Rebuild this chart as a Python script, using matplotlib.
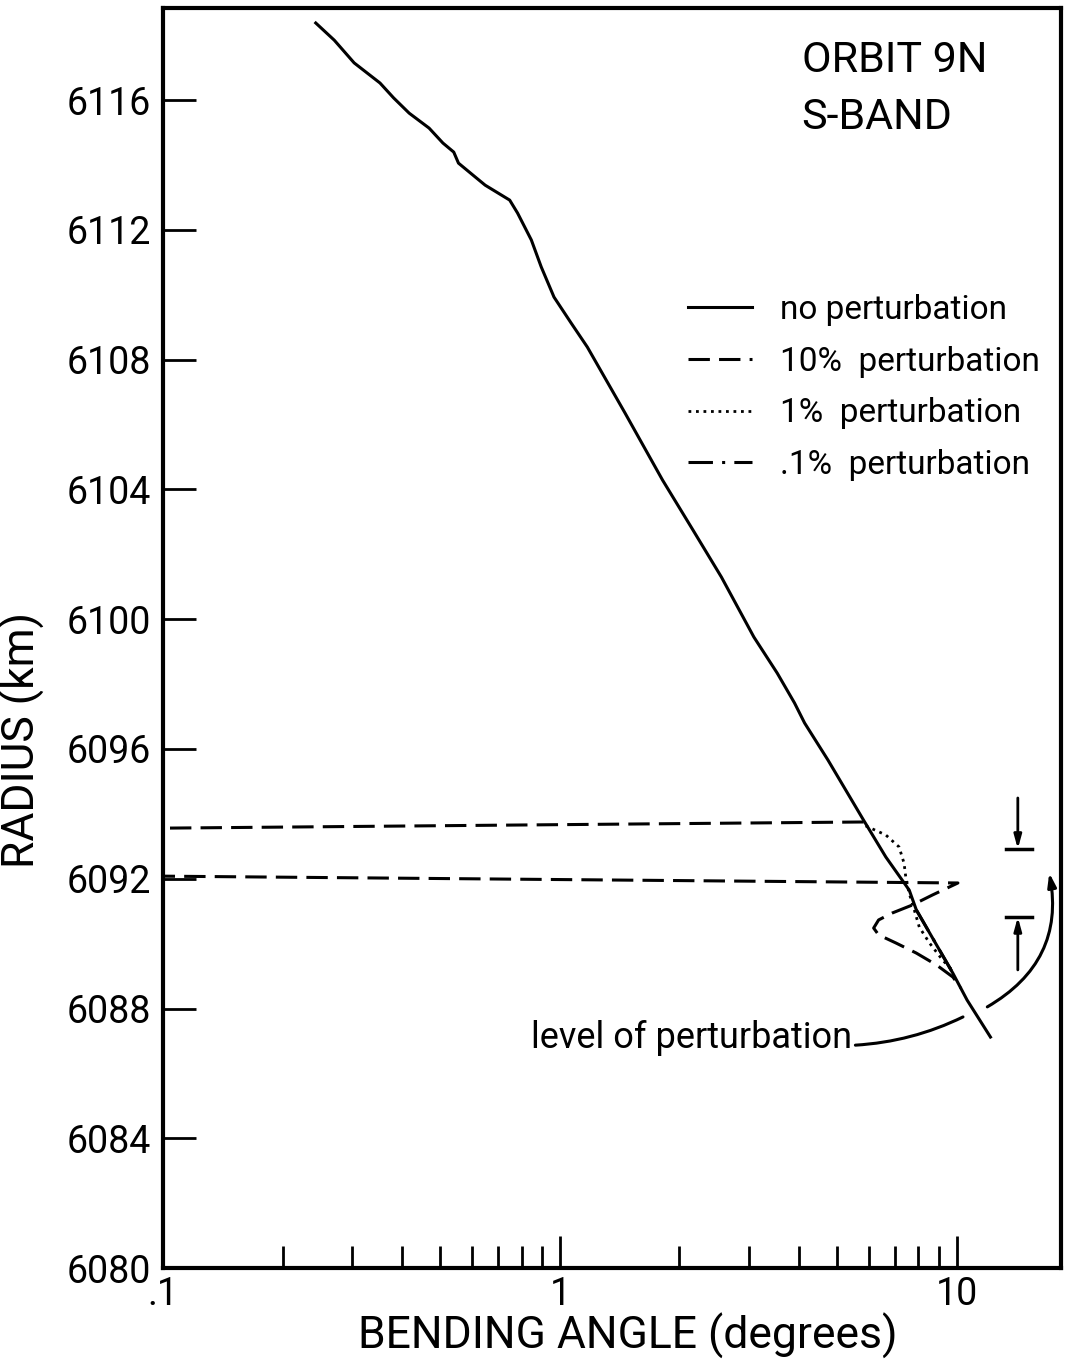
import matplotlib.pyplot as plt
from matplotlib.ticker import LogLocator, NullFormatter, FixedLocator, FixedFormatter

plt.rcParams['font.family'] = ['Roboto', 'DejaVu Sans']

# unperturbed profile: bending angle (deg) against radius (km)
angle_0 = [0.2425, 0.270, 0.303, 0.352, 0.381, 0.417, 0.468, 0.507, 0.540, 0.555,
           0.612, 0.648, 0.747, 0.782, 0.847, 0.897, 0.966, 1.067, 1.172, 1.458,
           1.813, 2.163, 2.551, 3.080, 3.526, 3.898, 4.134, 4.733, 5.817, 6.622,
           7.584, 7.903, 9.768, 10.61, 12.15]
radius_0 = [6118.38, 6117.85, 6117.15, 6116.53, 6116.07, 6115.60, 6115.14, 6114.68,
            6114.40, 6114.06, 6113.63, 6113.38, 6112.92, 6112.52, 6111.69, 6110.86,
            6109.93, 6109.13, 6108.39, 6106.36, 6104.29, 6102.75, 6101.30, 6099.45,
            6098.34, 6097.42, 6096.80, 6095.66, 6093.81, 6092.67, 6091.65, 6091.04,
            6089.09, 6088.26, 6087.12]

# 10% perturbation (runs off to small angles and comes back)
angle_10 = [5.82, 0.1, 0.05, 0.05, 0.1, 10.06, 8.68, 7.72, 6.86, 6.35, 6.17, 6.35,
            7.02, 7.90, 8.89, 9.77, 10.24]
radius_10 = [6093.75, 6093.56, 6093.55, 6092.08, 6092.08, 6091.87, 6091.50, 6091.19,
             6090.94, 6090.73, 6090.48, 6090.27, 6090.02, 6089.71, 6089.34, 6088.97,
             6088.63]

# 1% perturbation
angle_1 = [5.89, 6.62, 7.15, 7.36, 7.45, 7.58, 7.81, 8.04, 8.53, 9.21, 9.72]
radius_1 = [6093.63, 6093.35, 6092.98, 6092.48, 6091.96, 6091.56, 6091.04, 6090.51,
            6090.02, 6089.49, 6089.19]

# .1% perturbation lies on the unperturbed curve
angle_01 = [7.903, 9.768]
radius_01 = [6091.04, 6089.09]

yticks = list(range(6080, 6117, 4))
xticks = [0.1, 1, 10]
xticklabels = ['.1', '1', '10']

fig = plt.figure(figsize=(10.65, 13.67), dpi=100)
ax = fig.add_axes([0.1531, 0.0724, 0.8432, 0.9217])

ax.plot(angle_0, radius_0, color='black', lw=2.2, label='no perturbation')
ax.plot(angle_10, radius_10, color='black', lw=2.2, dashes=(7, 3),
        label='10%  perturbation')
ax.plot(angle_1, radius_1, color='black', lw=2.0, dashes=(1, 1.7),
        label='1%  perturbation')
ax.plot(angle_01, radius_01, color='black', lw=2.2, dashes=(8, 3, 1, 3),
        label='.1%  perturbation')

ax.set_xscale('log')
ax.set_xlim(0.1, 18.3)
ax.set_ylim(6080, 6118.84)

ax.xaxis.set_major_locator(FixedLocator(xticks))
ax.xaxis.set_major_formatter(FixedFormatter(xticklabels))
ax.xaxis.set_minor_locator(LogLocator(base=10, subs=range(2, 10)))
ax.xaxis.set_minor_formatter(NullFormatter())
ax.set_yticks(yticks)

ax.tick_params(axis='x', which='major', direction='in', length=23, width=2,
               labelsize=27, pad=6)
ax.tick_params(axis='x', which='minor', direction='in', length=16, width=2)
ax.tick_params(axis='y', direction='in', length=24, width=2, labelsize=27, pad=9)

for s in ax.spines.values():
    s.set_linewidth(3)

ax.set_xlabel('BENDING ANGLE (degrees)', fontsize=32)
ax.xaxis.set_label_coords(0.518, -0.036)
ax.set_ylabel('RADIUS (km)', fontsize=32)
ax.yaxis.set_label_coords(-0.131, 0.419)

ax.text(0.711, 0.958, 'ORBIT 9N', transform=ax.transAxes, fontsize=31,
        ha='left', va='center')
ax.text(0.711, 0.913, 'S-BAND', transform=ax.transAxes, fontsize=31,
        ha='left', va='center')

ax.legend(loc='upper left', bbox_to_anchor=(0.585, 0.773), frameon=False,
          fontsize=24, handlelength=1.9, handletextpad=0.85, labelspacing=0.59,
          borderpad=0, borderaxespad=0)

# level-of-perturbation callout
ax.text(5.45, 6087.1, 'level of perturbation', fontsize=26, ha='right', va='center')
ax.annotate('', xy=(10.36, 6087.74), xytext=(5.55, 6086.87),
            arrowprops=dict(arrowstyle='-', lw=2.2, color='black',
                            connectionstyle='arc3,rad=0.1', shrinkA=0, shrinkB=0))
ax.annotate('', xy=(17.09, 6092.18), xytext=(11.93, 6088.05),
            arrowprops=dict(arrowstyle='-|>,head_length=0.8,head_width=0.25',
                            lw=2.2, color='black',
                            connectionstyle='arc3,rad=0.35', shrinkA=0, shrinkB=0))

# bracket marking the perturbed layer
ax.annotate('', xy=(14.24, 6092.92), xytext=(14.24, 6094.49),
            arrowprops=dict(arrowstyle='-|>,head_length=0.8,head_width=0.22',
                            lw=2, color='black', shrinkA=0, shrinkB=0))
ax.plot([13.27, 15.46], [6092.92, 6092.92], color='black', lw=2.5)
ax.annotate('', xy=(14.24, 6090.82), xytext=(14.24, 6089.19),
            arrowprops=dict(arrowstyle='-|>,head_length=0.8,head_width=0.22',
                            lw=2, color='black', shrinkA=0, shrinkB=0))
ax.plot([13.27, 15.46], [6090.82, 6090.82], color='black', lw=2.5)

fig.savefig('out.png', dpi=100)
